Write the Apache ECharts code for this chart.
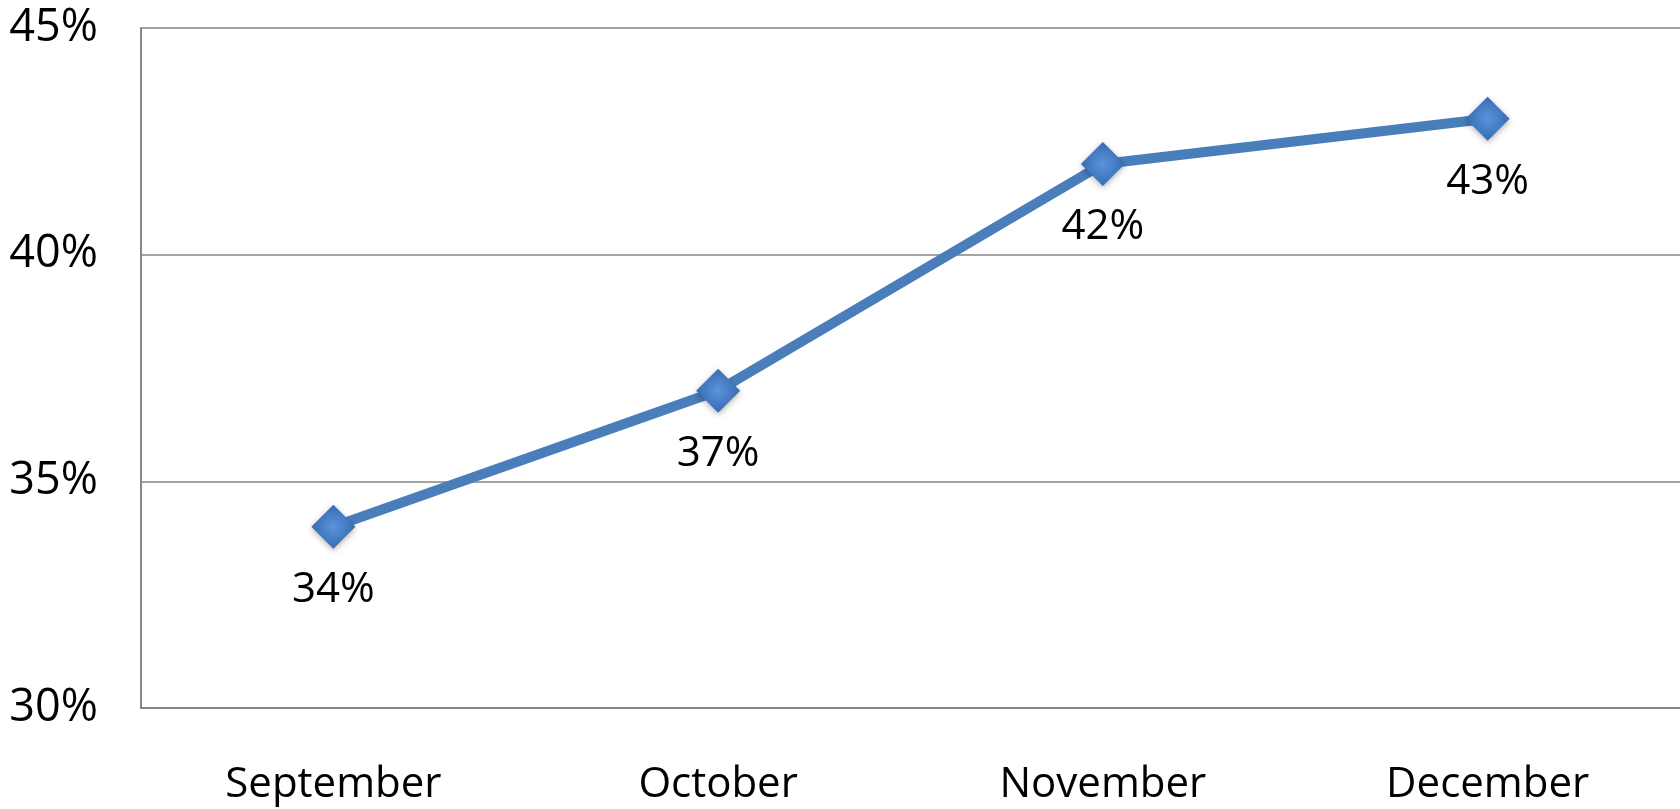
<!DOCTYPE html>
<html><head><meta charset="utf-8">
<script src="https://cdn.jsdelivr.net/npm/echarts@6/dist/echarts.min.js"></script>
<style>html,body{margin:0;padding:0;background:#fff}#c{width:1680px;height:809px}</style>
</head><body><div id="c"></div>
<script>
var categories = ['September', 'October', 'November', 'December'];
var values = [34, 37, 42, 43];
var yMin = 30, yMax = 45, yStep = 5;

var chart = echarts.init(document.getElementById('c'));
var font = 'Open Sans';
chart.setOption({
  animation: false,
  grid: { left: 141, right: 0, top: 28, bottom: 101, containLabel: false },
  xAxis: {
    type: 'category', data: categories, boundaryGap: true,
    axisLine: { show: true, lineStyle: { color: '#868686', width: 2 } },
    axisTick: { show: false },
    axisLabel: { fontFamily: font, fontSize: 42, color: '#000', margin: 56 }
  },
  yAxis: {
    type: 'value', min: yMin, max: yMax, interval: yStep,
    axisLine: { show: true, lineStyle: { color: '#868686', width: 2 } },
    axisTick: { show: false },
    splitLine: { show: true, lineStyle: { color: '#868686', width: 1.5 } },
    axisLabel: { fontFamily: font, fontSize: 45, color: '#000', margin: 43, formatter: '{value}%' }
  },
  series: [{
    type: 'line', data: values,
    lineStyle: { color: '#4a7ebb', width: 10 },
    symbol: 'diamond', symbolSize: [44, 44],
    itemStyle: {
      color: { type: 'radial', x: 0.5, y: 0.5, r: 0.6,
        colorStops: [{ offset: 0, color: '#5b94dd' }, { offset: 1, color: '#2f63a8' }] },
      shadowColor: 'rgba(0,0,0,0.3)', shadowBlur: 6, shadowOffsetY: 2
    },
    label: { show: true, position: 'bottom', distance: 20, fontFamily: font, fontSize: 42, color: '#000',
      formatter: '{c}%' }
  }]
});
</script></body></html>
